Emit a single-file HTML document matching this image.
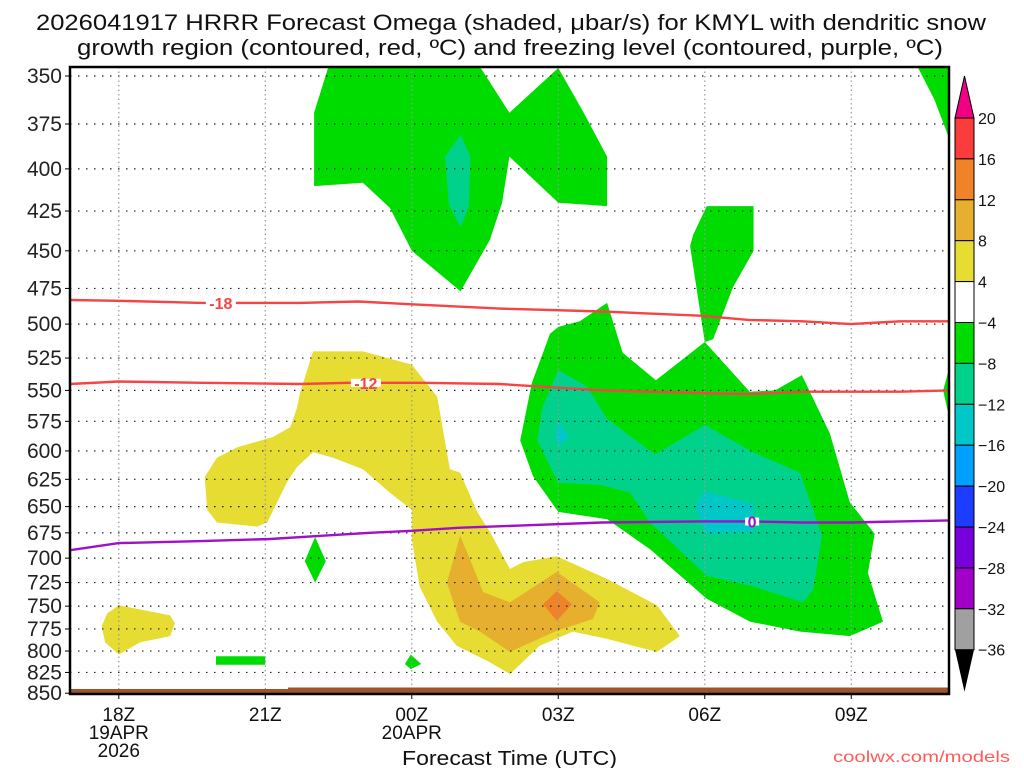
<!DOCTYPE html>
<html><head><meta charset="utf-8"><style>
html,body{margin:0;padding:0;background:#fff;}
svg{display:block;font-family:"Liberation Sans",sans-serif;}
</style></head><body>
<svg id="chart" width="1024" height="768" viewBox="0 0 1024 768" xmlns="http://www.w3.org/2000/svg">
<rect width="1024" height="768" fill="#fff"/>
<text x="36" y="30" font-size="22" textLength="950" lengthAdjust="spacingAndGlyphs" fill="#111">2026041917 HRRR Forecast Omega (shaded, μbar/s) for KMYL with dendritic snow</text>
<text x="77" y="55" font-size="22" textLength="866" lengthAdjust="spacingAndGlyphs" fill="#111">growth region (contoured, red, ºC) and freezing level (contoured, purple, ºC)</text>
<g id="shade"></g>
<g id="grid"></g>
<g id="ground"></g>
<g id="lines"></g>
<g id="axes"></g>
<g id="cbar"></g>
<text x="402" y="765" font-size="20" textLength="215" lengthAdjust="spacingAndGlyphs" fill="#111">Forecast Time (UTC)</text>
<text x="833" y="762" font-size="16" textLength="177" lengthAdjust="spacingAndGlyphs" fill="#ff5a5a">coolwx.com/models</text>
</svg>
<script>
// ---- data ----
const timeTicks = [0, 3, 6, 9, 12, 15];
const timeLabels = ["18Z", "21Z", "00Z", "03Z", "06Z", "09Z"];
const dateLabels = ["19APR", "", "20APR", "", "", ""];
const yearLabels = ["2026", "", "", "", "", ""];
const pressureTicks = [350,375,400,425,450,475,500,525,550,575,600,625,650,675,700,725,750,775,800,825,850];
const levels = [20,16,12,8,4,-4,-8,-12,-16,-20,-24,-28,-32,-36];
const levelColors = ["#fa3c3c","#f08228","#e6af2d","#e6dc32","#ffffff","#00dc00","#00d28c","#00c8c8","#00a0ff","#1e3cff","#7800dc","#a000c8","#a0a0a0"];

const greenAreas = [
 [[4.29,345.5],[4.0,369],[4.0,410],[5.0,408],[5.55,423],[6.0,450],[7.0,477],[7.6,443],[7.85,420],[8.0,393],[9.0,420],[10.0,422],[10.0,393],[9.5,368],[9.0,346],[8.0,369],[7.4,345.5]],
 [[12.04,422],[13.0,422],[13.0,450],[12.58,474],[12.17,511],[12.0,513],[11.7,447],[11.76,440]],
 [[10.0,485],[10.32,521],[11.0,542],[12.0,513],[12.92,551],[13.44,550],[13.99,538],[14.56,585],[14.97,646],[15.48,676],[15.34,715],[15.65,767],[14.97,783],[13.95,778],[12.93,767],[12.04,742],[10.88,691],[10.0,662],[9.0,655],[8.48,622],[8.22,591],[8.46,544],[8.83,507],[9.0,502],[9.44,498]],
 [[16.36,345.5],[17.05,345.5],[17.05,386],[16.7,362]],
 [[17.05,527],[16.88,550],[17.05,580]],
 [[4.02,679],[4.24,703],[4.02,725],[3.81,703]],
 [[5.98,804],[6.19,815],[5.98,821],[5.86,815]],
 [[1.99,806],[3.0,806],[3.0,816],[1.99,816]]
];
const tealAreas = [
 [[7.0,381],[7.2,393],[7.17,422],[7.0,435],[6.76,421],[6.68,393]],
 [[9.0,534],[9.59,547],[10.0,573],[10.98,603],[12.0,578],[12.99,601],[13.95,619],[14.4,678],[14.22,732],[14.01,746],[12.99,729],[12.04,718],[10.88,665],[10.47,637],[9.85,630],[9.0,628],[8.57,591],[8.67,564]]
];
const cyanAreas = [
 [[9.0,575],[9.22,588],[9.0,596],[8.94,587]],
 [[12.0,636],[12.99,648],[12.99,674],[12.04,676],[11.8,650]]
];
const yellowAreas = [
 [[3.98,520],[5.0,520],[6.0,530],[6.52,555],[6.78,616],[6.99,619],[7.34,655],[7.6,674],[8.01,711],[8.28,704],[8.97,698],[9.99,721],[11.02,749],[11.49,783],[11.02,801],[9.99,786],[9.3,778],[8.62,794],[8.01,827],[7.6,813],[6.92,794],[6.52,767],[6.16,729],[6.0,681],[6.0,653],[5.55,637],[5.0,616],[4.39,606],[3.98,601],[3.65,614],[3.45,627],[3.04,665],[2.83,669],[2.01,665],[1.81,653],[1.76,623],[2.01,606],[2.42,597],[3.16,588],[3.51,580],[3.65,564],[3.71,552]],
 [[0,749],[1.05,760],[1.15,769],[1.05,783],[0.44,790],[0,804],[-0.28,790],[-0.35,772],[-0.24,758]]
];
const darkYellowAreas = [
 [[6.99,678],[7.19,701],[7.46,735],[8.01,746],[8.97,714],[9.85,746],[9.71,764],[8.97,777],[8.01,801],[7.4,778],[6.99,767],[6.72,725]]
];
const orangeAreas = [
 [[8.97,734],[9.28,748],[8.97,766],[8.69,748]]
];
const lineM18 = [[-1,483],[0,483.5],[1.7,485],[3.7,485],[4.9,484],[6,486],[7.8,489],[9.9,491],[11.9,494],[12.9,497],[14,498],[15,500],[16,498],[17.05,498]];
const lineM12 = [[-1,545],[0,543],[1.7,544],[3.7,545],[4.7,544],[6.2,544],[7.8,545],[9.9,550],[11.9,552],[12.9,553],[14,551],[15,551],[16,551],[17.05,550]];
const lineZero = [[-1,692],[0,685],[1.7,683],[3.1,681],[4.1,678],[5.1,675],[6,673],[7,670],[8.2,668],[9.9,665],[11.9,664],[12.9,664],[14,665],[15,665],[16,664],[17.05,663]];

// ---- axes ----
const X0=70, X1=949, Y0=67, Y1=694;
function xs(t){ return 118.8 + t*48.83; }
function ys(p){ return 76 + 695.6*Math.log(p/350); }
const NS="http://www.w3.org/2000/svg";
function mk(tag, attrs, parent){ const e=document.createElementNS(NS,tag); for(const k in attrs) e.setAttribute(k,attrs[k]); parent.appendChild(e); return e; }
function pts(arr){ return arr.map(d=>xs(d[0]).toFixed(1)+","+ys(d[1]).toFixed(1)).join(" "); }

const shade=document.getElementById('shade');
const clip=mk('clipPath',{id:'plotclip'},document.getElementById('chart'));
mk('rect',{x:X0,y:Y0,width:X1-X0,height:Y1-Y0},clip);
shade.setAttribute('clip-path','url(#plotclip)');
function drawAreas(list,color,name){
  list.forEach((a,i)=>{
    const p=mk('polygon',{points:pts(a),fill:color},shade);
    
    
  });
}
drawAreas(greenAreas,levelColors[5],'omega-green-area');
drawAreas(tealAreas,levelColors[6],'omega-teal-area');
drawAreas(cyanAreas,levelColors[7],'omega-cyan-area');
drawAreas(yellowAreas,levelColors[3],'omega-yellow-area');
drawAreas(darkYellowAreas,levelColors[2],'omega-gold-area');
drawAreas(orangeAreas,levelColors[1],'omega-orange-area');

// grid
const grid=document.getElementById('grid');
pressureTicks.forEach(p=>{
  const l=mk('line',{x1:X0,x2:X1,y1:ys(p),y2:ys(p),stroke:'#222','stroke-width':1.2,'stroke-dasharray':'1.5 6.5'},grid);
  
  
});
timeTicks.forEach(t=>{
  const l=mk('line',{x1:xs(t),x2:xs(t),y1:Y0,y2:Y1,stroke:'#999','stroke-width':1.2,'stroke-dasharray':'1.5 3'},grid);
  
  
});

// ground
const g=document.getElementById('ground');
const gr1=mk('rect',{x:X0,y:689,width:220,height:5,fill:'#a0522d'},g);


const gr2=mk('rect',{x:288,y:687.5,width:X1-288,height:6.5,fill:'#a0522d'},g);



// contour lines
const lines=document.getElementById('lines');
lines.setAttribute('clip-path','url(#plotclip)');
function drawLine(arr,color,name){
  const pl=mk('polyline',{points:pts(arr),fill:'none',stroke:color,'stroke-width':2.4},lines);
  
  
}
drawLine(lineM18,'#f64444','contour-minus18');
drawLine(lineM12,'#f64444','contour-minus12');
drawLine(lineZero,'#a010c8','freezing-level-0');
function pAt(t,arr){ let p=arr[0][1]; for(let i=0;i<arr.length-1;i++){ if(t>=arr[i][0]&&t<=arr[i+1][0]){ const f=(t-arr[i][0])/(arr[i+1][0]-arr[i][0]); p=arr[i][1]+f*(arr[i+1][1]-arr[i][1]); } } return p; }
function label(txt,t,arr,color,name,w){
  const x=xs(t), y=ys(pAt(t,arr));
  mk('rect',{x:x-w/2,y:y-4,width:w,height:8,fill:'#fff'},lines);
  const tx=mk('text',{x:x,y:y+6,'font-size':16,'font-weight':'bold','text-anchor':'middle',fill:color},lines);
  tx.textContent=txt;
  
  
}
label('-18',2.09,lineM18,'#f64444','contour-label-minus18',30);
label('-12',5.06,lineM12,'#f64444','contour-label-minus12',30);
label('0',12.97,lineZero,'#a010c8','contour-label-0',14);

// axes
const ax=document.getElementById('axes');
const fr=mk('rect',{x:X0,y:Y0,width:X1-X0,height:Y1-Y0,fill:'none',stroke:'#000','stroke-width':2.5},ax);


pressureTicks.forEach(p=>{
  mk('line',{x1:X0-5,x2:X0,y1:ys(p),y2:ys(p),stroke:'#000','stroke-width':1},ax);
  const t=mk('text',{x:62,y:ys(p)+7,'font-size':21,'text-anchor':'end',fill:'#222'},ax);
  t.textContent=p;
  
  
});
timeTicks.forEach((tv,i)=>{
  mk('line',{x1:xs(tv),x2:xs(tv),y1:Y1,y2:Y1+5,stroke:'#000','stroke-width':1},ax);
  [[timeLabels[i],721],[dateLabels[i],739],[yearLabels[i],757]].forEach((r,j)=>{
    if(!r[0]) return;
    const t=mk('text',{x:xs(tv),y:r[1],'font-size':19,'text-anchor':'middle',fill:'#111'},ax);
    t.textContent=r[0];
    
    
  });
});

// colorbar
const cb=document.getElementById('cbar');
const CX=955, CW=19, CT=118, SEG=40.9;
levelColors.forEach((c,i)=>{
  const r=mk('rect',{x:CX,y:CT+i*SEG,width:CW,height:SEG,fill:c,stroke:'#000','stroke-width':1},cb);
  
  
});
const tt=mk('polygon',{points:`${CX},${CT} ${CX+CW},${CT} ${CX+CW/2},${CT-42}`,fill:'#f00082',stroke:'#000','stroke-width':1},cb);


const bt=mk('polygon',{points:`${CX},${CT+13*SEG} ${CX+CW},${CT+13*SEG} ${CX+CW/2},${CT+13*SEG+42}`,fill:'#000'},cb);


levels.forEach((v,i)=>{
  const t=mk('text',{x:978,y:CT+i*SEG+6,'font-size':16,fill:'#111'},cb);
  t.textContent=v<0?'−'+Math.abs(v):String(v);
  
  
});
</script>
</body></html>
